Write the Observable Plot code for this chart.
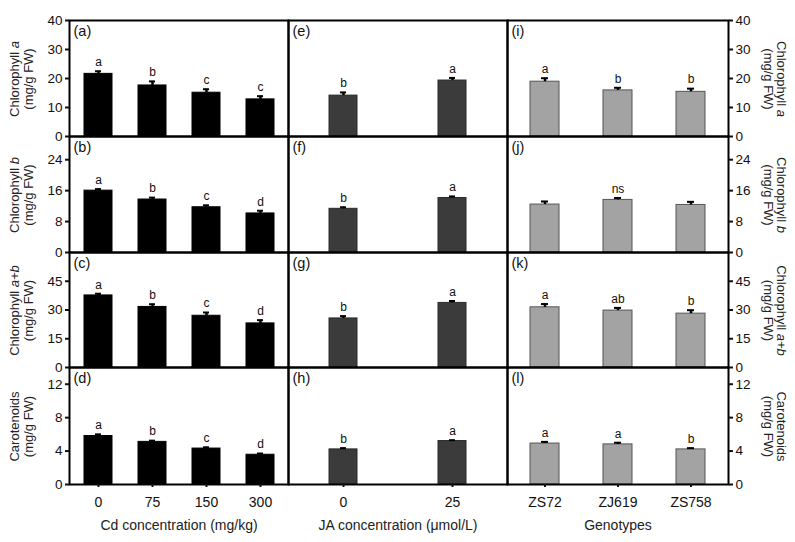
<!DOCTYPE html>
<html>
<head>
<meta charset="utf-8">
<script src="https://cdn.jsdelivr.net/npm/d3@7"></script>
<script src="https://cdn.jsdelivr.net/npm/@observablehq/plot@0.6"></script>
<style>
  body { margin: 0; background: white; }
  #chart { position: relative; width: 795px; height: 542px; background: white; font-family: "Liberation Sans", Arial, sans-serif; }
  #chart > svg { position: absolute; }
</style>
</head>
<body>
<div id="chart"></div>
<script>
// ---- categories ----
const cdLevels = ["0", "75", "150", "300"];
const jaLevels = ["0", "25"];
const genotypes = ["ZS72", "ZJ619", "ZS758"];

// ---- axis titles ----
const xTitles = ["Cd concentration (mg/kg)", "JA concentration (μmol/L)", "Genotypes"];
const panelLetters = ["a","b","c","d","e","f","g","h","i","j","k","l"];

// ---- y tick labels / domains per row ----
const yMaxRows = [40, 30, 60, 14];
const yTicksChlA = [0, 10, 20, 30, 40];
const yTicksChlB = [0, 8, 16, 24];
const yTicksChlAB = [0, 15, 30, 45];
const yTicksCar = [0, 4, 8, 12];

// ---- Row 1: Chlorophyll a ----
const chlaCd = [21.6, 17.6, 15.1, 12.8];
const chlaCdErr = [0.9, 1.4, 1.2, 1.1];
const chlaCdSig = ["a", "b", "c", "c"];
const chlaJa = [14.1, 19.3];
const chlaJaErr = [1.1, 0.9];
const chlaJaSig = ["b", "a"];
const chlaGen = [18.9, 15.9, 15.4];
const chlaGenErr = [1.2, 0.9, 1.1];
const chlaGenSig = ["a", "b", "b"];

// ---- Row 2: Chlorophyll b ----
const chlbCd = [16.0, 13.7, 11.7, 10.1];
const chlbCdErr = [0.4, 0.5, 0.5, 0.7];
const chlbCdSig = ["a", "b", "c", "d"];
const chlbJa = [11.3, 14.1];
const chlbJaErr = [0.4, 0.4];
const chlbJaSig = ["b", "a"];
const chlbGen = [12.4, 13.6, 12.3];
const chlbGenErr = [0.8, 0.5, 0.8];
const chlbGenSig = ["", "ns", ""];

// ---- Row 3: Chlorophyll a+b ----
const chlabCd = [37.6, 31.6, 27.0, 23.0];
const chlabCdErr = [0.9, 1.4, 1.7, 1.7];
const chlabCdSig = ["a", "b", "c", "d"];
const chlabJa = [25.6, 33.7];
const chlabJaErr = [1.2, 1.0];
const chlabJaSig = ["b", "a"];
const chlabGen = [31.4, 29.7, 28.1];
const chlabGenErr = [1.7, 1.4, 1.8];
const chlabGenSig = ["a", "ab", "b"];

// ---- Row 4: Carotenoids ----
const carCd = [5.8, 5.1, 4.3, 3.56];
const carCdErr = [0.2, 0.15, 0.15, 0.15];
const carCdSig = ["a", "b", "c", "d"];
const carJa = [4.2, 5.2];
const carJaErr = [0.15, 0.1];
const carJaSig = ["b", "a"];
const carGen = [4.9, 4.8, 4.2];
const carGenErr = [0.2, 0.2, 0.15];
const carGenSig = ["a", "a", "b"];

// ---- layout ----
const colLefts = [0, 288, 507];
const colWidths = [288, 219, 288];
const colMargins = [[69, 0], [0, 0], [0, 67]];
const colPadding = [0.49, 0.744, 0.6];
const colFill = ["#000000", "#3b3b3b", "#a3a3a3"];
const colStroke = ["#000000", "#2a2a2a", "#555555"];
const rowTops = [0, 136, 252, 367];
const rowHeights = [136, 116, 115, 175];
const rowMargins = [[20, 0], [0, 0], [0, 0], [0, 58]];

const columns = [cdLevels, jaLevels, genotypes];
const rowTicks = [yTicksChlA, yTicksChlB, yTicksChlAB, yTicksCar];
const panels = [
  [[chlaCd, chlaCdErr, chlaCdSig], [chlaJa, chlaJaErr, chlaJaSig], [chlaGen, chlaGenErr, chlaGenSig]],
  [[chlbCd, chlbCdErr, chlbCdSig], [chlbJa, chlbJaErr, chlbJaSig], [chlbGen, chlbGenErr, chlbGenSig]],
  [[chlabCd, chlabCdErr, chlabCdSig], [chlabJa, chlabJaErr, chlabJaSig], [chlabGen, chlabGenErr, chlabGenSig]],
  [[carCd, carCdErr, carCdSig], [carJa, carJaErr, carJaSig], [carGen, carGenErr, carGenSig]]
];

const chart = document.getElementById("chart");
const FONT = "'Liberation Sans', Arial, sans-serif";

for (let r = 0; r < 4; r++) {
  for (let c = 0; c < 3; c++) {
    const cats = columns[c];
    const [vals, errs, sigs] = panels[r][c];
    const data = cats.map((k, i) => ({cat: k, v: vals[i], e: errs[i], s: sigs[i]}));
    const marks = [
      Plot.barY(data, {x: "cat", y: "v", fill: colFill[c], stroke: colStroke[c], strokeWidth: 1}),
      Plot.ruleX(data, {x: "cat", y1: "v", y2: d => d.v + d.e, stroke: "black", strokeWidth: 2.5}),
      Plot.tickY(data, {x: "cat", y: d => d.v + d.e, stroke: "black", strokeWidth: 2, insetLeft: 11, insetRight: 11}),
      Plot.text(data, {x: "cat", y: d => d.v + d.e, text: "s", dy: -9, fontSize: 12, fill: "#111"}),
      Plot.frame({stroke: "black", strokeWidth: 2}),
      Plot.text([`(${panelLetters[c * 4 + r]})`], {frameAnchor: "top-left", lineAnchor: "top", dx: 4, dy: 5, fontSize: 14.5, fill: "#111"})
    ];
    if (c === 0) marks.push(Plot.axisY({anchor: "left", ticks: rowTicks[r], tickSize: 4, tickPadding: 3, fontSize: 13.5, label: null, strokeWidth: 2}));
    if (c === 2) marks.push(Plot.axisY({anchor: "right", ticks: rowTicks[r], tickSize: 4, tickPadding: 3, fontSize: 13.5, label: null, strokeWidth: 2}));
    if (r === 3) {
      marks.push(Plot.axisX({anchor: "bottom", tickSize: 3, tickPadding: 10, fontSize: 14, label: null, strokeWidth: 2}));
      marks.push(Plot.text([xTitles[c]], {frameAnchor: "bottom", lineAnchor: "middle", dy: 41, fontSize: 14, fill: "#222"}));
    }
    const svg = Plot.plot({
      width: colWidths[c],
      height: rowHeights[r],
      marginLeft: colMargins[c][0],
      marginRight: colMargins[c][1],
      marginTop: rowMargins[r][0],
      marginBottom: rowMargins[r][1],
      style: {fontFamily: FONT, fontSize: "13px", overflow: "visible", background: "transparent", color: "#111"},
      x: {type: "band", domain: cats, paddingInner: colPadding[c], paddingOuter: colPadding[c] / 2, axis: null},
      y: {domain: [0, yMaxRows[r]], axis: null},
      marks
    });
    svg.style.left = colLefts[c] + "px";
    svg.style.top = rowTops[r] + "px";
    chart.appendChild(svg);
  }
}

// ---- rotated y-axis titles (with italic parts) ----
const yLabelMain = ["Chlorophyll ", "Chlorophyll ", "Chlorophyll ", "Carotenoids"];
const yLabelItalic = ["a", "b", "a+b", ""];
const yLabelUnit = "(mg/g FW)";

const overlay = d3.select(chart).append("svg")
  .attr("width", 795).attr("height", 542)
  .style("position", "absolute").style("left", "0px").style("top", "0px")
  .style("pointer-events", "none")
  .attr("font-family", FONT).attr("font-size", 13).attr("fill", "#222");

for (let r = 0; r < 4; r++) {
  const top = rowTops[r] + rowMargins[r][0];
  const bottom = rowTops[r] + rowHeights[r] - rowMargins[r][1];
  const cy = (top + bottom) / 2 + 1;
  // left side
  const gl = overlay.append("g").attr("transform", `translate(0,${cy}) rotate(-90)`);
  const t1 = gl.append("text").attr("x", 0).attr("y", 14).attr("text-anchor", "middle").attr("dominant-baseline", "central");
  t1.append("tspan").text(yLabelMain[r]);
  if (yLabelItalic[r]) t1.append("tspan").attr("font-style", "italic").text(yLabelItalic[r]);
  gl.append("text").attr("x", 0).attr("y", 28).attr("text-anchor", "middle").attr("dominant-baseline", "central").text(yLabelUnit);
  // right side
  const gr = overlay.append("g").attr("transform", `translate(795,${cy}) rotate(90)`);
  const t2 = gr.append("text").attr("x", 0).attr("y", 13).attr("text-anchor", "middle").attr("dominant-baseline", "central");
  t2.append("tspan").text(yLabelMain[r]);
  if (yLabelItalic[r]) t2.append("tspan").attr("font-style", "italic").text(yLabelItalic[r]);
  gr.append("text").attr("x", 0).attr("y", 27).attr("text-anchor", "middle").attr("dominant-baseline", "central").text(yLabelUnit);
}
</script>
</body>
</html>
